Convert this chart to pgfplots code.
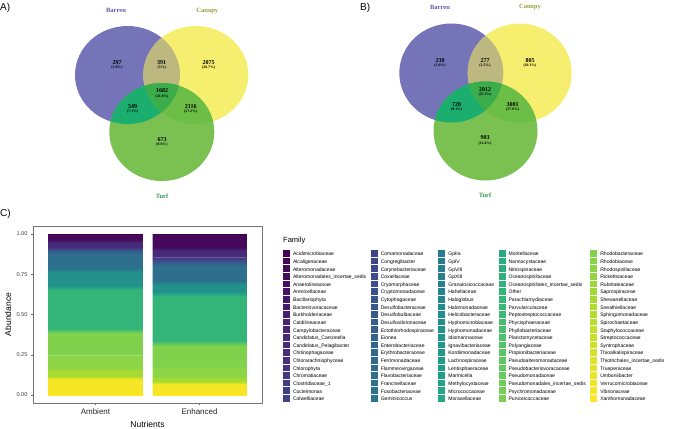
\documentclass[border=0pt]{standalone}
\usepackage{pgfplots}
\pgfplotsset{compat=1.18}
\usepackage{fontspec}
\setmainfont{Liberation Sans}
\newfontfamily\tnr{Liberation Serif}

% viridis stops, interpolated to 100 family colours
\definecolor{v0}{HTML}{440154}
\definecolor{v1}{HTML}{482878}
\definecolor{v2}{HTML}{3E4A89}
\definecolor{v3}{HTML}{31688E}
\definecolor{v4}{HTML}{26828E}
\definecolor{v5}{HTML}{1F9E89}
\definecolor{v6}{HTML}{35B779}
\definecolor{v7}{HTML}{6DCD59}
\definecolor{v8}{HTML}{B4DE2C}
\definecolor{v9}{HTML}{FDE725}
\foreach \i in {0,...,99}{%
  \pgfmathsetmacro\t{\i*9/99}%
  \pgfmathtruncatemacro\k{min(floor(\t),8)}%
  \pgfmathtruncatemacro\kk{\k+1}%
  \pgfmathtruncatemacro\f{round(100*(\t-\k))}%
  \edef\tmp{\noexpand\xglobal\noexpand\colorlet{vir\i}{v\kk!\f!v\k}}\tmp
}

% venn colours
\definecolor{vB}{HTML}{7574B8}
\definecolor{vC}{HTML}{F5EE6E}
\definecolor{vT}{HTML}{7AC152}
\definecolor{vBC}{HTML}{BDB780}
\definecolor{vBT}{HTML}{1BAE6E}
\definecolor{vCT}{HTML}{6CBE46}
\definecolor{vBCT}{HTML}{3BAE4B}
\definecolor{lB}{HTML}{5A5AB0}
\definecolor{lC}{HTML}{9E9A3E}
\definecolor{lT}{HTML}{2E9A4E}

\tikzset{
  cnt/.style={font=\tnr\bfseries\fontsize{6}{6}\selectfont, inner sep=0pt},
  pct/.style={font=\tnr\bfseries\fontsize{3.8}{3.8}\selectfont, inner sep=0pt},
  lab/.style={font=\tnr\bfseries\fontsize{6.5}{6.5}\selectfont, inner sep=0pt},
  panel/.style={font=\fontsize{10}{10}\selectfont, anchor=west, inner sep=0pt},
}

\pgfplotsset{
  venn/.style={anchor=north west, scale only axis, height=215pt,
    xmin=0, ymin=0, ymax=215, y dir=reverse, hide axis,
    enlargelimits=false, clip=false},
}

% Bx By Cx Cy Tx Ty rx ry
\newcommand\vennfill[8]{%
  \fill[vB] (axis cs:#1,#2) ellipse [x radius=#7pt, y radius=#8pt];
  \fill[vC] (axis cs:#3,#4) ellipse [x radius=#7pt, y radius=#8pt];
  \fill[vT] (axis cs:#5,#6) ellipse [x radius=#7pt, y radius=#8pt];
  \begin{scope}
    \clip (axis cs:#1,#2) ellipse [x radius=#7pt, y radius=#8pt];
    \fill[vBC] (axis cs:#3,#4) ellipse [x radius=#7pt, y radius=#8pt];
  \end{scope}
  \begin{scope}
    \clip (axis cs:#1,#2) ellipse [x radius=#7pt, y radius=#8pt];
    \fill[vBT] (axis cs:#5,#6) ellipse [x radius=#7pt, y radius=#8pt];
  \end{scope}
  \begin{scope}
    \clip (axis cs:#3,#4) ellipse [x radius=#7pt, y radius=#8pt];
    \fill[vCT] (axis cs:#5,#6) ellipse [x radius=#7pt, y radius=#8pt];
  \end{scope}
  \begin{scope}
    \clip (axis cs:#1,#2) ellipse [x radius=#7pt, y radius=#8pt];
    \clip (axis cs:#3,#4) ellipse [x radius=#7pt, y radius=#8pt];
    \fill[vBCT] (axis cs:#5,#6) ellipse [x radius=#7pt, y radius=#8pt];
  \end{scope}
}
\newcommand\vc[5]{%
  \node[cnt] at (axis cs:#1,#2) {#4};
  \node[pct] at (axis cs:#1,#3) {(#5)};
}
% one family: index, ambient, enhanced, name
\newcommand\family[4]{%
  \addplot[fill=vir#1, draw=vir#1, line width=0.3pt] coordinates {(1,#2) (2,#3)};
  \addlegendentry{#4}
}

\begin{document}
\begin{tikzpicture}
\useasboundingbox (0pt,-428pt) rectangle (676pt,0pt);

\node[panel] at (0pt,-8pt) {A)};
\node[panel] at (360pt,-8pt) {B)};
\node[panel] at (0pt,-214pt) {C)};

% ---------- A ----------
\begin{axis}[venn, at={(0pt,0pt)}, width=340pt, xmax=340]
\pgfplotsextra{\vennfill{127.5}{75}{195.8}{75}{161.8}{132}{52.5}{49}}
\node[lab, text=lB] at (axis cs:116,10.7) {Barren};
\node[lab, text=lC] at (axis cs:207.3,10.7) {Canopy};
\node[lab, text=lT] at (axis cs:162,196) {Turf};
\vc{117}{62.5}{68}{297}{3.8\%}
\vc{161.7}{62.5}{68}{391}{5\%}
\vc{208.7}{62.5}{68}{2075}{26.7\%}
\vc{162}{91}{96.3}{1682}{21.6\%}
\vc{132.7}{106.7}{111.7}{549}{7.1\%}
\vc{190.7}{106.7}{111.7}{2116}{27.2\%}
\vc{162}{139.3}{144.7}{673}{8.6\%}
\end{axis}

% ---------- B ----------
\begin{axis}[venn, at={(340pt,0pt)}, width=336pt, xmax=336]
\pgfplotsextra{\vennfill{111.3}{73}{179.7}{73}{145.5}{131}{52}{49.5}}
\node[lab, text=lB] at (axis cs:100,7.3) {Barren};
\node[lab, text=lC] at (axis cs:190,7.3) {Canopy};
\node[lab, text=lT] at (axis cs:145,195.7) {Turf};
\vc{100}{60.7}{65.5}{230}{2.9\%}
\vc{145}{60.7}{65.5}{277}{3.5\%}
\vc{190}{60.7}{65.5}{805}{10.1\%}
\vc{145}{89.3}{94.7}{2012}{25.3\%}
\vc{116.7}{104.7}{109.7}{720}{9.1\%}
\vc{172.7}{104.7}{109.7}{3001}{37.8\%}
\vc{145}{138}{143.3}{903}{11.4\%}
\end{axis}

% ---------- C ----------
\begin{axis}[
  at={(33pt,-226pt)}, anchor=north west,
  scale only axis, width=229pt, height=177pt,
  ybar stacked, bar width=0.9, clip=false,
  xmin=0.4, xmax=2.6, ymin=-0.05, ymax=1.05,
  xtick={1,2}, xticklabels={Ambient,Enhanced},
  ytick={0,0.25,0.5,0.75,1},
  yticklabels={0.00,0.25,0.50,0.75,1.00},
  xtick pos=bottom, ytick pos=left,
  /pgf/number format/assume math mode=true,
  tick align=outside, major tick length=2pt,
  tick style={black!60, line width=0.4pt},
  axis line style={black!55, line width=0.5pt},
  yticklabel style={font=\fontsize{5.6}{6}\selectfont, text=black!75},
  xticklabel style={font=\fontsize{8}{8}\selectfont, text=black!85},
  xlabel={Nutrients}, ylabel={Abundance},
  every axis x label/.style={at={(axis description cs:0.5,-0.119)}, anchor=center, font=\fontsize{8.5}{8.5}\selectfont},
  every axis y label/.style={at={(axis description cs:-0.109,0.5)}, rotate=90, anchor=center, font=\fontsize{8.5}{8.5}\selectfont},
  legend image code/.code={\fill[#1, draw=none] (0pt,-2.2pt) rectangle (7pt,4.4pt);},
  legend columns=20, transpose legend, reverse legend,
  legend cell align=left,
  legend style={at={(axis description cs:1.0917,0.8633)}, anchor=north west,
    draw=none, fill=none, inner sep=0pt, outer sep=0pt,
    row sep=0pt, column sep=3pt,
    font=\fontsize{5.05}{5.05}\selectfont,
    nodes={inner sep=0pt, outer sep=0pt, text height=4.4pt, text depth=2.05pt},
    /tikz/every even column/.append style={column sep=4.5pt}},
]
\family{99}{.002}{.002}{Xanthomonadaceae}
\family{98}{.090}{.059}{Vibrionaceae}
\family{97}{.003}{.003}{Verrucomicrobiaceae}
\family{96}{.002}{.002}{Umboniibacter}
\family{95}{.002}{.002}{Trueperaceae}
\family{94}{.0015}{.001}{Thiotrichales\_incertae\_sedis}
\family{93}{.0015}{.001}{Thioalkalispiraceae}
\family{92}{.0015}{.001}{Syntrophaceae}
\family{91}{.0015}{.001}{Streptococcaceae}
\family{90}{.0015}{.001}{Staphylococcaceae}
\family{89}{.0015}{.001}{Spirochaetaceae}
\family{88}{.0015}{.004}{Sphingomonadaceae}
\family{87}{.0015}{.001}{Sneathiellaceae}
\family{86}{.040}{.020}{Shewanellaceae}
\family{85}{.005}{.005}{Saprospiraceae}
\family{84}{.002}{.002}{Rubritaleaceae}
\family{83}{.003}{.004}{Rickettsiaceae}
\family{82}{.080}{.058}{Rhodospirillaceae}
\family{81}{.003}{.003}{Rhodobiaceae}
\family{80}{.137}{.131}{Rhodobacteraceae}
\family{79}{.002}{.002}{Puniceicoccaceae}
\family{78}{.002}{.002}{Psychromonadaceae}
\family{77}{.002}{.0025}{Pseudomonadales\_incertae\_sedis}
\family{76}{.002}{.0025}{Pseudomonadaceae}
\family{75}{.002}{.0025}{Pseudobacteriovoracaceae}
\family{74}{.002}{.0025}{Pseudoalteromonadaceae}
\family{73}{.002}{.0025}{Propionibacteriaceae}
\family{72}{.002}{.0025}{Polyangiaceae}
\family{71}{.002}{.0025}{Planctomycetaceae}
\family{70}{.002}{.0025}{Phyllobacteriaceae}
\family{69}{.002}{.0025}{Phycisphaeraceae}
\family{68}{.002}{.0025}{Peptostreptococcaceae}
\family{67}{.002}{.0025}{Parvularculaceae}
\family{66}{.002}{.0025}{Parachlamydiaceae}
\family{65}{.240}{.271}{Other}
\family{64}{.002}{.0025}{Oceanospirillales\_incertae\_sedis}
\family{63}{.002}{.0025}{Oceanospirillaceae}
\family{62}{.002}{.0025}{Nitrospinaceae}
\family{61}{.002}{.0025}{Nannocystaceae}
\family{60}{.002}{.0025}{Moritellaceae}
\family{59}{.002}{.0025}{Moraxellaceae}
\family{58}{.002}{.0025}{Micrococcaceae}
\family{57}{.002}{.0025}{Methylocystaceae}
\family{56}{.002}{.0025}{Marinicella}
\family{55}{.002}{.0025}{Lentisphaeraceae}
\family{54}{.002}{.0025}{Lachnospiraceae}
\family{53}{.002}{.0025}{Kordiimonadaceae}
\family{52}{.001}{.001}{Ignavibacteriaceae}
\family{51}{.001}{.001}{Idiomarinaceae}
\family{50}{.085}{.042}{Hyphomonadaceae}
\family{49}{.002}{.002}{Hyphomicrobiaceae}
\family{48}{.001}{.001}{Helicobacteraceae}
\family{47}{.003}{.003}{Halomonadaceae}
\family{46}{.001}{.001}{Haloglobus}
\family{45}{.002}{.002}{Hahellaceae}
\family{44}{.002}{.002}{Granulosicoccaceae}
\family{43}{.002}{.001}{GpXIII}
\family{42}{.002}{.001}{GpVIII}
\family{41}{.003}{.002}{GpIV}
\family{40}{.004}{.003}{GpIIa}
\family{39}{.001}{.001}{Geminicoccus}
\family{38}{.001}{.002}{Fusobacteriaceae}
\family{37}{.002}{.003}{Francisellaceae}
\family{36}{.088}{.090}{Flavobacteriaceae}
\family{35}{.003}{.004}{Flammeovirgaceae}
\family{34}{.001}{.002}{Ferrimonadaceae}
\family{33}{.004}{.005}{Erythrobacteraceae}
\family{32}{.001}{.002}{Enterobacteriaceae}
\family{31}{.002}{.003}{Eionea}
\family{30}{.002}{.002}{Ectothiorhodospiraceae}
\family{29}{.002}{.003}{Desulfovibrionaceae}
\family{28}{.002}{.002}{Desulfobulbaceae}
\family{27}{.002}{.002}{Desulfobacteraceae}
\family{26}{.003}{.004}{Cytophagaceae}
\family{25}{.001}{.002}{Cryptomonadaceae}
\family{24}{.002}{.004}{Cryomorphaceae}
\family{23}{.001}{.002}{Coxiellaceae}
\family{22}{.001}{.001}{Corynebacteriaceae}
\family{21}{.003}{.004}{Congregibacter}
\family{20}{.001}{.002}{Comamonadaceae}
\family{19}{.002}{.004}{Colwelliaceae}
\family{18}{.001}{.002}{Cocleimonas}
\family{17}{.001}{.001}{Clostridiaceae\_1}
\family{16}{.001}{.002}{Chromatiaceae}
\family{15}{.002}{.002}{Chlorophyta}
\family{14}{.001}{.001}{Chlorarachniophyceae}
\family{13}{.001}{.002}{Chitinophagaceae}
\family{12}{.030}{.040}{Candidatus\_Pelagibacter}
\family{11}{.001}{.001}{Candidatus\_Carsonella}
\family{10}{.002}{.003}{Campylobacteraceae}
\family{9}{.001}{.001}{Caldilineaceae}
\family{8}{.001}{.001}{Burkholderiaceae}
\family{7}{.001}{.002}{Bacteriovoracaceae}
\family{6}{.008}{.006}{Bacillariophyta}
\family{5}{.003}{.004}{Arenicellaceae}
\family{4}{.001}{.001}{Anaerolineaceae}
\family{3}{.006}{.012}{Alteromonadales\_incertae\_sedis}
\family{2}{.025}{.066}{Alteromonadaceae}
\family{1}{.001}{.002}{Alcaligenaceae}
\family{0}{.006}{.008}{Acidimicrobiaceae}
\node[anchor=west, inner sep=0pt, font=\fontsize{7.5}{7.5}\selectfont]
  at (axis description cs:1.0917,0.915) {Family};
\end{axis}
\end{tikzpicture}
\end{document}
